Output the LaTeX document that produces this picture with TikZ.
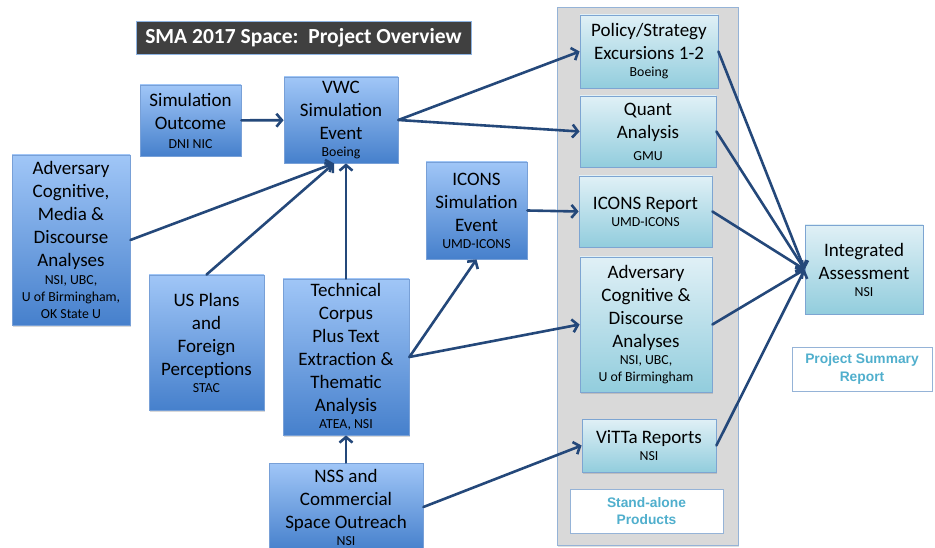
\documentclass[tikz,border=0pt]{standalone}
\usepackage{fontspec}
\setmainfont{Carlito}
\newfontfamily\labelsans{Liberation Sans}
\usetikzlibrary{arrows.meta,shadows,calc}

\definecolor{linkblue}{RGB}{36,72,122}
\definecolor{inTop}{RGB}{160,198,247}
\definecolor{inBot}{RGB}{70,128,204}
\definecolor{inEdge}{RGB}{120,160,215}
\definecolor{outTop}{RGB}{224,240,246}
\definecolor{outBot}{RGB}{146,205,221}
\definecolor{outEdge}{RGB}{125,165,210}
\definecolor{panelGray}{RGB}{217,217,217}
\definecolor{panelEdge}{RGB}{149,179,215}
\definecolor{noteBlue}{RGB}{80,175,205}
\definecolor{titleGray}{RGB}{64,64,64}
\definecolor{titleEdge}{RGB}{141,179,226}

% organisation line under a box title
\newcommand\org[2][2pt]{\par\vspace{#1}{\fontsize{13.8}{17}\selectfont #2\par}}

\tikzset{
  sz/.code 2 args={\pgfmathsetmacro\tw{#1-2}%
    \edef\tmp{\noexpand\tikzset{minimum width=#1pt,minimum height=#2pt,text width=\tw pt}}\tmp},
  box/.style={rectangle, draw, line width=0.8pt, inner xsep=1pt, inner ysep=0pt,
    align=flush center, font=\fontsize{19}{23}\selectfont,
    drop shadow={shadow xshift=1.2pt, shadow yshift=-1.5pt, opacity=0.3}},
  inbox/.style={box, draw=inEdge, top color=inTop, bottom color=inBot},
  outbox/.style={box, draw=outEdge, top color=outTop, bottom color=outBot},
  notebox/.style={rectangle, draw=panelEdge, line width=0.8pt, fill=white,
    inner xsep=1pt, inner ysep=0pt, align=center, text=noteBlue,
    font=\labelsans\bfseries\fontsize{13.8}{17.5}\selectfont},
  link/.style={draw=linkblue, line width=2.6pt, line cap=round,
    -{Straight Barb[length=5.5pt,width=13pt]}},
}

\begin{document}
\begin{tikzpicture}[x=1pt,y=-1pt]
\useasboundingbox (0,0) rectangle (935,548);

% title
\node[rectangle, draw=titleEdge, line width=0.8pt, fill=titleGray, text=white,
  font=\bfseries\fontsize{21.5}{24}\selectfont, minimum width=335pt, minimum height=33pt,
  inner sep=0pt] (title) at (303.5,37.5) {SMA 2017 Space:\ \ Project Overview};

% stand-alone products panel
\node[rectangle, draw=panelEdge, line width=0.9pt, fill=panelGray, minimum width=181pt,
  minimum height=538pt, inner sep=0pt,
  drop shadow={shadow xshift=1.2pt, shadow yshift=-1.5pt, opacity=0.25}] (panel) at (647.5,276) {};

% inputs
\node[inbox, sz={101}{71}] (simout) at (190.5,120.5) {Simulation\\Outcome\org{DNI NIC}};
\node[inbox, sz={114}{86}] (vwc) at (341,120) {VWC\\Simulation\\Event\org[0pt]{Boeing}};
\node[inbox, sz={118}{170}] (advcmd) at (71,240)
  {Adversary\\Cognitive,\\Media \&\\Discourse\\Analyses\org[1pt]{NSI, UBC,\\U of Birmingham,\\OK State U}};
\node[inbox, sz={115}{135}] (usplans) at (206.5,342.5) {US Plans\\and\\Foreign\\Perceptions\org[0pt]{STAC}};
\node[inbox, sz={126}{156}] (tech) at (346,357)
  {Technical\\Corpus\\Plus Text\\Extraction \&\\Thematic\\Analysis\org[0pt]{ATEA, NSI}};
\node[inbox, sz={154}{88}] (nss) at (346,507) {NSS and\\Commercial\\Space Outreach\org[0pt]{NSI}};
\node[inbox, sz={101}{97}] (iconssim) at (476.5,210.5) {ICONS\\Simulation\\Event\org[0pt]{UMD-ICONS}};

% stand-alone products
\node[outbox, sz={138}{73}] (policy) at (649,51.5) {Policy/Strategy\\Excursions 1-2\org[0pt]{Boeing}};
\node[outbox, sz={136}{71}] (quant) at (648,131.5) {Quant\\Analysis\org[5pt]{GMU}};
\node[outbox, sz={133}{71}] (iconsrep) at (645.5,211.5) {ICONS Report\org[0pt]{UMD-ICONS}};
\node[outbox, sz={132}{135}] (advcd) at (646,324.5)
  {Adversary\\Cognitive \&\\Discourse\\Analyses\org[0pt]{NSI, UBC,\\U of Birmingham}};
\node[outbox, sz={134}{53}] (vitta) at (649,445.5) {ViTTa Reports\org[0pt]{NSI}};
\node[notebox, minimum width=153pt, minimum height=44pt] (standalone) at (646.5,511) {Stand-alone\\Products};

% summary
\node[outbox, sz={118}{89}] (integ) at (864,269.5) {Integrated\\Assessment\org[0pt]{NSI}};
\node[notebox, minimum width=140pt, minimum height=44pt] (summary) at (862,369) {Project Summary\\Report};

% connectors
\coordinate (vwcin) at ($(vwc.south)+(-7,0)$);
\draw[link] (simout) -- (vwc);
\draw[link] (advcmd.east) -- (vwcin);
\draw[link] (usplans.north) -- (vwcin);
\draw[link] (tech.north) -- (tech.north |- vwc.south);
\draw[link] (nss.north) -- (tech.south);
\draw[link] (vwc.east) -- (policy.west);
\draw[link] (vwc.east) -- (quant.west);
\draw[link] (tech.east) -- (iconssim.south);
\draw[link] (tech.east) -- (advcd.west);
\draw[link] (iconssim.east) -- (iconsrep.west);
\draw[link] (nss.east) -- (vitta.west);
\foreach \src in {policy,quant,iconsrep,advcd,vitta}
  \draw[link] (\src.east) -- (integ.west);
\end{tikzpicture}
\end{document}
